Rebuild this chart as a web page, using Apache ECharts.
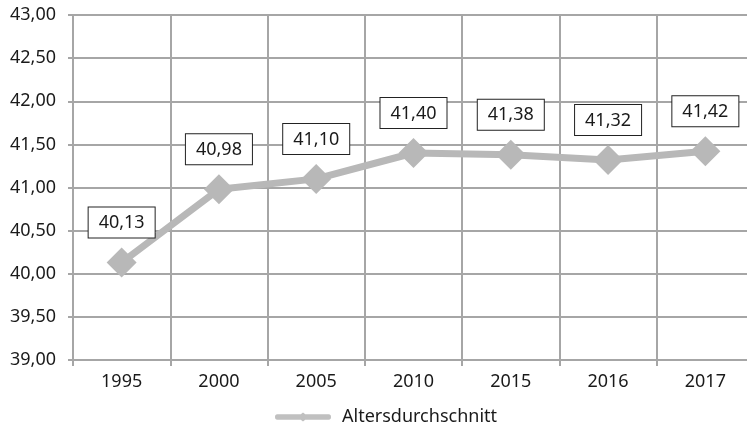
<!DOCTYPE html>
<html>
<head>
<meta charset="utf-8">
<script src="https://cdn.jsdelivr.net/npm/echarts@6/dist/echarts.min.js"></script>
<style>
  html, body { margin: 0; padding: 0; background: #fff; }
  #chart { width: 747px; height: 432px; }
</style>
</head>
<body>
<div id="chart"></div>
<script>
// Average age per year
const years = ['1995', '2000', '2005', '2010', '2015', '2016', '2017'];
const averageAge = [40.13, 40.98, 41.10, 41.40, 41.38, 41.32, 41.42];
const seriesName = 'Altersdurchschnitt';
const yMin = 39, yMax = 43, yStep = 0.5;

const gridColor = '#a6a6a6';
const lineColor = '#b8b8b8';
const textColor = '#1a1a1a';
const fontFamily = '"Noto Sans", "Open Sans", sans-serif';
const fmt = v => v.toFixed(2).replace('.', ',');

// Legend icon: thick rounded bar with a small diamond in the middle
const legendIcon = 'path://M4,3 L46,3 L50,0 L54,3 L96,3 Q100,3 100,8 Q100,13 96,13 L54,13 L50,16 L46,13 L4,13 Q0,13 0,8 Q0,3 4,3 Z';

const chart = echarts.init(document.getElementById('chart'), null, { renderer: 'canvas' });
chart.setOption({
  animation: false,
  backgroundColor: '#ffffff',
  textStyle: { fontFamily },
  grid: { left: 73, top: 15, width: 681, bottom: 72, outerBoundsMode: 'none', containLabel: false },
  legend: {
    bottom: 1,
    left: 270,
    itemWidth: 56,
    itemHeight: 9,
    textStyle: { fontSize: 18, color: textColor, fontFamily, padding: [0, 0, 0, 6] },
    itemStyle: { color: '#c0c0c0' },
    data: [{ name: seriesName, icon: legendIcon }]
  },
  xAxis: {
    type: 'category',
    data: years,
    boundaryGap: true,
    axisLine: { lineStyle: { color: gridColor, width: 2 } },
    axisTick: { show: true, length: 6, lineStyle: { color: gridColor, width: 2 } },
    splitLine: { show: true, lineStyle: { color: gridColor, width: 2 } },
    axisLabel: { fontSize: 18, color: textColor, margin: 13, fontFamily }
  },
  yAxis: {
    type: 'value',
    min: yMin,
    max: yMax,
    interval: yStep,
    axisLine: { show: true, lineStyle: { color: gridColor, width: 2 } },
    axisTick: { show: true, length: 5, lineStyle: { color: gridColor, width: 2 } },
    splitLine: { show: true, lineStyle: { color: gridColor, width: 2 } },
    axisLabel: { fontSize: 18, color: textColor, margin: 17, formatter: fmt, fontFamily }
  },
  series: [{
    name: seriesName,
    type: 'line',
    data: averageAge,
    symbol: 'diamond',
    symbolSize: 30,
    itemStyle: { color: lineColor },
    lineStyle: { color: lineColor, width: 7 },
    label: {
      show: true,
      position: 'top',
      distance: 10,
      formatter: p => fmt(p.value),
      fontSize: 18,
      color: textColor,
      fontFamily,
      backgroundColor: '#fff',
      borderColor: '#222',
      borderWidth: 1,
      padding: [5, 10, 4, 10],
      lineHeight: 21
    }
  }]
});
</script>
</body>
</html>
